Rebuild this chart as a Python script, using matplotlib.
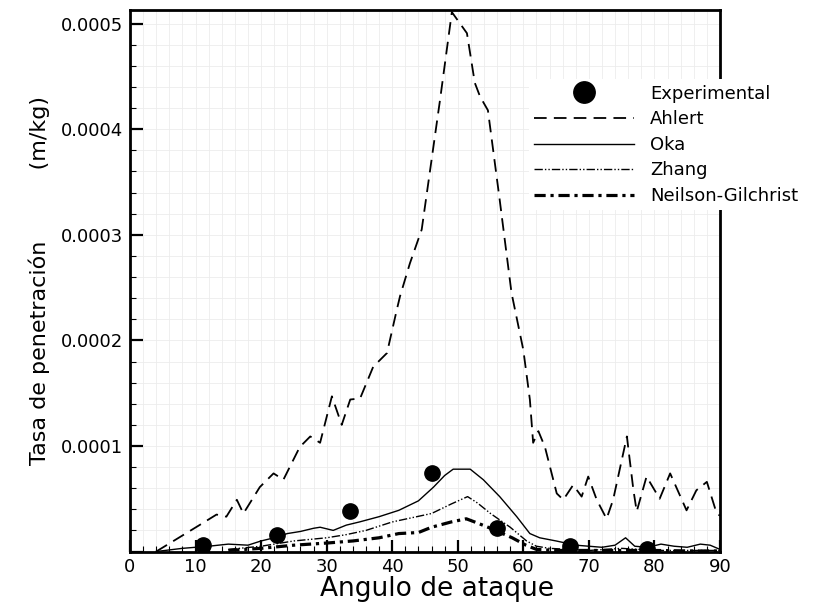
import numpy as np
import matplotlib.pyplot as plt
from matplotlib.ticker import MultipleLocator, FuncFormatter

plt.rcParams['font.family'] = ['DejaVu Sans']

# Experimental points
exp_x = [11.1, 22.4, 33.6, 46.1, 56.0, 67.1, 78.9]
exp_y = [0.6e-5, 1.6e-5, 3.8e-5, 7.4e-5, 2.2e-5, 0.5e-5, 0.24e-5]

# Ahlert model
ahlert_x = [4.0, 10.2, 13.2, 14.7, 16.3, 17.3, 19.8, 21.9, 23.4, 25.9, 27.5, 29.0,
            30.8, 32.3, 33.6, 35.1, 37.1, 39.2, 40.7, 41.2, 42.7, 44.5, 47.3, 49.1,
            51.4, 52.6, 53.4, 54.6, 56.4, 58.2, 60.0, 61.0, 61.5, 62.3, 63.3, 65.1,
            66.1, 67.6, 68.9, 69.9, 71.2, 72.7, 73.7, 75.8, 76.8, 77.3, 78.8, 80.8,
            82.4, 84.9, 86.4, 88.0, 89.5, 90.0]
ahlert_y = [0.0, 2.35, 3.5, 3.3, 4.9, 3.6, 6.1, 7.4, 6.8, 9.9, 10.9, 10.3,
            14.7, 12.0, 14.4, 14.5, 17.5, 18.8, 22.9, 24.2, 27.3, 30.5, 42.8, 51.1,
            49.1, 44.4, 43.1, 41.8, 33.3, 24.5, 19.1, 14.4, 10.3, 11.4, 9.9, 5.5,
            4.9, 6.3, 5.2, 7.1, 4.9, 3.1, 4.9, 10.9, 5.8, 3.8, 7.1, 5.0,
            7.4, 3.9, 5.8, 6.6, 3.6, 3.4]

# Oka model
oka_x = [4, 8, 12, 15, 18, 20, 22, 24, 26, 28, 29, 31, 33, 35, 38, 41, 44, 46.3,
         48, 49.3, 51.9, 53.9, 56.4, 59, 61, 62.5, 65, 68, 70, 72, 74, 75.6, 77,
         79, 81, 83, 85, 87, 88.5, 90]
oka_y = [0.0, 0.3, 0.5, 0.7, 0.6, 1.0, 1.3, 1.7, 1.9, 2.2, 2.3, 2.0, 2.5, 2.8, 3.3,
         3.9, 4.8, 6.1, 7.2, 7.8, 7.8, 6.8, 5.2, 3.3, 1.7, 1.3, 1.0, 0.6, 0.5, 0.4,
         0.6, 1.3, 0.5, 0.4, 0.7, 0.5, 0.4, 0.7, 0.6, 0.2]

# Zhang model
zhang_x = [15, 20, 25, 30, 33, 36, 40, 43, 46, 49, 51.5, 53, 55, 58, 60.5, 62, 64,
           67, 70, 75, 80, 85, 90]
zhang_y = [0.2, 0.5, 1.0, 1.3, 1.6, 2.0, 2.8, 3.2, 3.6, 4.5, 5.2, 4.6, 3.6, 2.3,
           1.0, 0.5, 0.3, 0.2, 0.1, 0.3, 0.1, 0.1, 0.1]

# Neilson-Gilchrist model
ng_x = [15, 20, 25, 30, 34, 38, 41, 44, 46, 49, 51.3, 53, 55, 58.3, 60.4, 62, 65,
        70, 75, 80, 85, 90]
ng_y = [0.1, 0.3, 0.6, 0.8, 1.0, 1.3, 1.7, 1.8, 2.3, 2.8, 3.1, 2.7, 2.2, 1.3, 0.6,
        0.2, 0.1, 0.1, 0.1, 0.1, 0.05, 0.05]

s = 1e-5
fig = plt.figure(figsize=(8.15, 6.09), dpi=100)
ax = fig.add_axes([0.1595, 0.0944, 0.7239, 0.8892])

ax.plot(exp_x, exp_y, 'o', color='black', markersize=11, label='Experimental', zorder=4)
ax.plot(ahlert_x, np.array(ahlert_y) * s, color='black', lw=1.3,
        linestyle=(0, (7, 4)), label='Ahlert')
ax.plot(oka_x, np.array(oka_y) * s, color='black', lw=1.0, label='Oka')
ax.plot(zhang_x, np.array(zhang_y) * s, color='black', lw=1.0,
        linestyle=(0, (6, 1.5, 1, 1.5, 1, 1.5)), label='Zhang')
ax.plot(ng_x, np.array(ng_y) * s, color='black', lw=2.3,
        linestyle=(0, (3.5, 1.5, 1, 1.5)), label='Neilson-Gilchrist')

ax.set_xlim(0, 90)
ax.set_ylim(0, 5.13e-4)
ax.xaxis.set_major_locator(MultipleLocator(10))
ax.xaxis.set_minor_locator(MultipleLocator(2))
ax.yaxis.set_major_locator(MultipleLocator(1e-4))
ax.yaxis.set_minor_locator(MultipleLocator(2e-5))
ax.yaxis.set_major_formatter(FuncFormatter(lambda v, p: '' if v < 1e-9 else f'{v:.4f}'))

ax.grid(which='both', color='#ececec', lw=0.6)
ax.set_axisbelow(True)
ax.tick_params(which='both', direction='in', labelsize=13, pad=5)
ax.tick_params(which='major', length=9, width=1.6)
ax.tick_params(which='minor', length=4, width=0.8)
for sp in ax.spines.values():
    sp.set_linewidth(2)

ax.set_xlabel('Angulo de ataque', fontsize=19, labelpad=2)
ax.xaxis.set_label_coords(0.52, -0.045)
ax.set_ylabel('Tasa de penetración          (m/kg)', fontsize=16, labelpad=8)

leg = ax.legend(loc='upper left', bbox_to_anchor=(0.676, 0.872), frameon=True,
                framealpha=1, edgecolor='none', fancybox=False, handlelength=5.5,
                handletextpad=0.9, fontsize=13, markerscale=1.4, borderaxespad=0,
                borderpad=0.3, labelspacing=0.42)
leg.set_zorder(5)

fig.savefig('out.png', dpi=100)
